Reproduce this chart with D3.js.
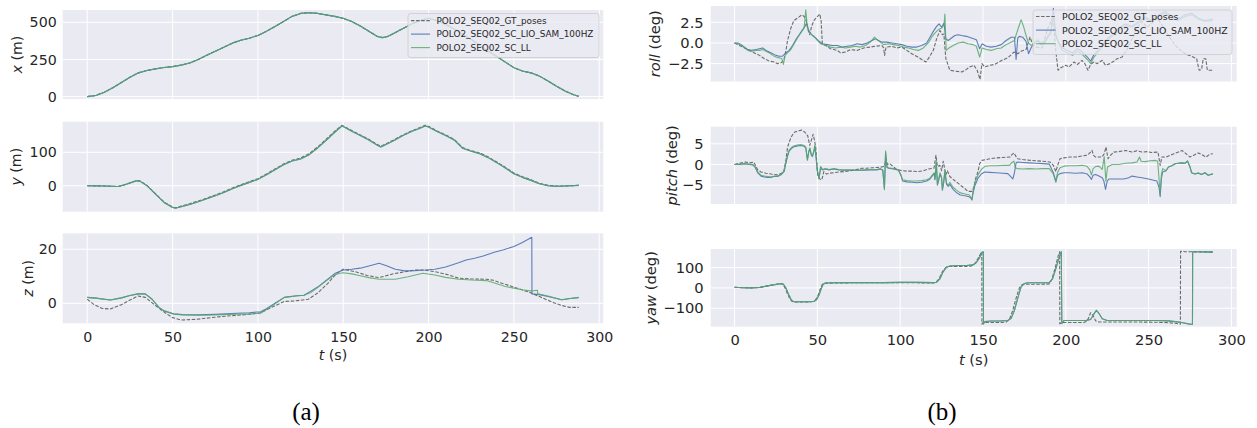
<!DOCTYPE html>
<html>
<head>
<meta charset="utf-8">
<script src="https://cdn.jsdelivr.net/npm/d3@7"></script>
<style>
body { margin: 0; background: #fff; }
svg { display: block; font-family: "DejaVu Sans", sans-serif; }
</style>
</head>
<body>
<svg id="chart" width="1257" height="428"></svg>
<script>
// ---- data: [t (s), value] ----
var seriesNames = ['POLO2_SEQ02_GT_poses', 'POLO2_SEQ02_SC_LIO_SAM_100HZ', 'POLO2_SEQ02_SC_LL'];
var tTicks = [0, 50, 100, 150, 200, 250, 300];

// position x: the three series sit on top of each other
var xPos = [[0,0],[5,8],[10,30],[15,60],[20,95],[25,130],[30,160],[35,176],[40,187],[45,196],[50,202],[55,212],[60,226],[65,250],[70,278],[75,305],[80,333],[85,360],[90,380],[95,393],[100,412],[105,440],[110,472],[115,505],[120,540],[125,560],[130,565],[135,560],[140,550],[145,540],[150,527],[155,505],[160,475],[165,440],[170,405],[173,397],[176,405],[180,428],[185,458],[190,488],[195,512],[200,527],[205,512],[210,485],[215,455],[220,420],[225,385],[230,345],[235,305],[240,270],[245,232],[250,195],[255,172],[260,160],[265,138],[270,105],[275,70],[280,38],[285,12],[288,2]];

var yGT = [[0,0],[5,-0.5],[10,-1],[15,-2],[18,-2.5],[22,3],[26,10],[29,16],[31,14],[35,1],[40,-24],[45,-49],[50,-64],[52,-66],[55,-61],[60,-54],[65,-46],[70,-37],[75,-28],[80,-18],[85,-7],[90,3],[95,12],[100,21],[105,35],[110,50],[115,65],[120,76],[125,83],[130,96],[135,116],[140,139],[145,163],[149,180],[150,179],[155,165],[160,152],[165,139],[170,123],[172,118],[175,125],[180,138],[185,152],[190,164],[195,174],[198,181],[200,178],[205,164],[210,152],[215,139],[220,114],[225,105],[230,98],[235,86],[240,71],[245,55],[250,38],[255,27],[260,18],[265,7],[270,1],[275,-1],[280,-1],[288,1]];
var yEst = [[0,0],[5,-0.5],[10,-1],[15,-2],[18,-2.5],[22,3],[26,10],[29,15],[31,13],[35,0],[40,-25],[45,-50],[50,-65],[52,-67],[55,-63],[60,-56],[65,-48],[70,-39],[75,-30],[80,-20],[85,-9],[90,1],[95,10],[100,19],[105,33],[110,48],[115,63],[120,74],[125,80],[130,93],[135,113],[140,136],[145,160],[149,178],[150,177],[155,163],[160,150],[165,137],[170,121],[172,116],[175,123],[180,136],[185,150],[190,162],[195,172],[198,179],[200,176],[205,162],[210,150],[215,137],[220,112],[225,103],[230,96],[235,84],[240,69],[245,53],[250,36],[255,25],[260,16],[265,6],[270,0],[275,-2],[280,-1],[288,1]];

var zGT = [[0,1.5],[4,-0.5],[8.8,-1.9],[13.5,-2.1],[20,-0.5],[25,1.2],[29.7,2.7],[34,2.2],[40,-0.8],[46,-3.7],[50,-5.3],[55,-6.2],[64.5,-5.9],[70,-5.5],[78.4,-4.9],[92.3,-4.2],[101.6,-3.5],[108,-1.5],[115.5,0.7],[122,0.9],[129.5,1.5],[135,3.8],[141,7.4],[146,11],[150,12.6],[157,11.7],[164,10.3],[171,9.5],[180,11],[192,12.3],[197,12.3],[203.7,11.7],[210,10.8],[217.6,9.3],[225,9.0],[233.9,8.9],[238,8.5],[243,7.4],[250,6.0],[259.4,4.0],[266,2.2],[273.3,0.2],[278,-0.8],[282.6,-1.5],[288,-1.5]];
var zLIO = [[0,2.2],[5,1.9],[13.5,1.2],[20,2.0],[25,2.9],[29.7,3.5],[34,3.5],[38,1.5],[42,-1.5],[45,-2.8],[50.6,-3.9],[56,-4.2],[64.5,-4.3],[75,-4.1],[87.7,-3.7],[95,-3.5],[101.6,-3.1],[105,-2.0],[110,0.0],[115.5,2.2],[122.5,2.8],[127,3.0],[131,4.5],[135,6.0],[140,8.5],[145,11.0],[150,12.3],[155,12.6],[160,13.0],[165,13.8],[171,14.8],[175,14.0],[180.5,12.6],[186,12.0],[192,12.1],[198,12.3],[203.7,12.6],[210,13.4],[217.6,15],[222,16.0],[227,16.7],[232,17.5],[238.5,18.9],[244,19.8],[250,21],[255,22.5],[260.5,24.4],[260.6,3.5],[265,3.2],[270,2.5],[278,1.3],[283,1.8],[288,2.1]];
var zLL = [[0,2.2],[5,1.9],[13.5,1.2],[20,2.0],[25,2.9],[29.7,3.5],[34,3.5],[38,1.5],[42,-1.5],[45,-2.8],[50.6,-4.0],[56,-4.3],[64.5,-4.4],[75,-4.3],[87.7,-4.0],[95,-4.0],[101.6,-3.7],[105,-2.3],[110,-0.2],[115.5,2.2],[122.5,2.7],[127,3.0],[131,4.0],[135,5.8],[140,8.3],[145,10.5],[148,11.1],[150,11.3],[155,10.9],[160,10.2],[165,9.5],[171,8.9],[180.5,8.9],[188,9.8],[196.7,11.1],[203.7,10.5],[210,9.6],[217.6,8.9],[225,8.6],[233.9,8.4],[240,7.2],[245,6.2],[250,5.6],[255,5.0],[259.4,4.6],[262,4.7],[263.8,4.8],[264,3.5],[270,2.7],[278,1.3],[283,1.8],[288,2.2]];

var rollGT = [[0,0],[3,-0.3],[6,-0.6],[9,-0.9],[12,-1.2],[15,-1.5],[18,-1.9],[21,-2.2],[24,-2.3],[26,-2.5],[28,-2.4],[29.7,-2.1],[31,-1.0],[32,0.3],[34,1.8],[35.8,2.7],[38,3.0],[40.6,3.4],[42,3.2],[43,2.9],[44.5,1.5],[45.4,1.0],[46.5,2.0],[47.9,2.7],[49.5,3.1],[51.5,3.5],[52.3,2.6],[53,-0.1],[55,-0.3],[58,-0.7],[62,-0.9],[64,-1.2],[67,-1.1],[70,-0.8],[74,-0.9],[78,-0.6],[81.7,-0.5],[85,-0.4],[89,-0.3],[90,-0.6],[90.6,-1.5],[91.5,-0.5],[95,-0.4],[98,-0.6],[101,-0.5],[104,-0.9],[107,-1.3],[110.7,-1.7],[113,-2.0],[115.5,-2.3],[117,-1.9],[120,-0.9],[122,0.5],[124,1.5],[125.5,1.0],[126.4,1.1],[127,-0.5],[127.6,-1.9],[130,-3.3],[133,-3.4],[137.3,-3.5],[140,-3.2],[142,-2.9],[144.5,-2.7],[146.5,-3.3],[148.2,-4.4],[149.4,-2.5],[151,-2.9],[154.2,-2.7],[157,-2.6],[161.5,-2.1],[165,-1.8],[168.7,-1.1],[171,-1.3],[173,-1.0],[176,-0.8],[178.4,0.7],[180,-0.2],[182,-0.5],[185.6,-0.6],[187,0.3],[189,1.7],[191.7,2.9],[192.9,1.5],[194,-1.0],[195.3,-3.3],[197,-3.0],[200,-2.7],[202,-2.9],[205,-2.3],[207,-2.6],[209.8,-2.1],[211.5,-2.5],[213.4,-3.3],[215,-2.6],[217,-2.3],[219,-2.5],[222,-2.1],[224,-2.7],[226.7,-2.5],[229,-2.2],[231,-1.9],[234,-1.7],[237,-0.8],[240,0.5],[243,1.8],[246,2.6],[249,1.9],[252,2.4],[255,3.0],[258,2.2],[261,1.2],[264,0.3],[267,-0.5],[270,-1.0],[273,-1.4],[276,-1.6],[279,-1.9],[280.5,-3.3],[282,-3.2],[283,-1.9],[284.5,-1.9],[285.5,-3.3],[289,-3.3]];
var rollLIO = [[0,0],[2,0],[4,-0.2],[6,-0.5],[8,-0.8],[10,-0.9],[13,-0.8],[15,-0.7],[17,-0.6],[19,-0.9],[21,-1.1],[23,-1.3],[25,-1.5],[27,-1.6],[29,-1.6],[31,-1.2],[33,-0.9],[35,-0.3],[37,0.4],[39,1.0],[41,1.6],[42.5,2.0],[43.5,2.4],[45,1.4],[47,0.9],[49,0.6],[51,0.2],[53,-0.1],[56,-0.2],[59,-0.3],[62,-0.3],[65,-0.5],[68,-0.4],[71,-0.3],[74,-0.1],[77,-0.2],[80,0.0],[83,0.3],[85,0.5],[87,0.3],[89,0.1],[92,0.1],[95,0.0],[98,-0.1],[101,-0.2],[104,-0.4],[107,-0.5],[110,-0.5],[113,-0.3],[116,0.0],[118,0.7],[120,1.4],[122,2.0],[123.5,2.3],[125,1.9],[126.5,2.4],[127.5,0.5],[129,0.3],[131,0.6],[133,0.9],[135,1.0],[137,0.9],[140,0.8],[143,0.6],[146,0.4],[148,-0.7],[149.5,-0.1],[152,-0.4],[155,-0.5],[158,-0.4],[161,-0.2],[164,0.3],[167,0.7],[169,0.7],[170,-2.0],[171,0.6],[172,0.8],[174,0.7],[176,0.2],[177.5,-1.3],[179,-0.6],[181,0.0],[183,0.3],[185,-0.2],[187,-0.1],[189,0.6],[191,1.2],[192.5,4.2],[194,0.8],[196,0.0],[198,-0.6],[201,-0.9],[204,-1.2],[207,-0.7],[210,-1.1],[213,-1.7],[215,-2.2],[217,-1.4],[220,-0.8],[224,0.3],[228,1.0],[232,1.8],[236,2.3],[240,2.0],[244,2.6],[248,3.1],[252,2.7],[256,3.4],[260,3.8],[264,3.2],[268,2.9],[272,3.4],[276,3.6],[280,3.0],[284,2.7],[288.8,2.9]];
var rollLL = [[0,0],[2,-0.1],[4,-0.3],[6,-0.6],[8,-0.9],[10,-1.0],[13,-0.9],[15,-0.9],[17,-0.8],[19,-1.0],[21,-1.2],[23,-1.5],[25,-1.7],[27,-1.8],[28.5,-1.9],[29.5,-2.6],[30.5,-1.5],[32,-1.2],[34,-0.8],[36,-0.1],[38,0.6],[40,1.2],[42,1.8],[43,4.0],[44,1.8],[46,1.1],[48,0.8],[50,0.3],[52,-0.1],[55,-0.3],[58,-0.5],[61,-0.6],[64,-0.5],[67,-0.6],[70,-0.5],[73,-0.4],[76,-0.5],[79,-0.3],[82,0.1],[84.5,0.7],[86,0.4],[88,0.1],[90,-0.2],[93,-0.1],[96,-0.2],[99,-0.3],[102,-0.5],[105,-0.6],[108,-0.8],[111,-0.9],[114,-0.6],[117,0.0],[119,0.7],[121,1.2],[123,1.6],[125,1.8],[126.5,2.2],[127,3.5],[127.8,-0.9],[129.5,-0.6],[132,-0.3],[135,0.0],[138,0.1],[141,-0.1],[144,-0.2],[146,-0.4],[148,-1.7],[149.5,-0.6],[152,-0.8],[155,-0.9],[158,-0.7],[161,-0.6],[164,-0.2],[167,0.1],[169,0.3],[170.5,1.3],[172,2.2],[173,2.8],[174.5,2.0],[176,0.9],[177.5,0.0],[179,-0.3],[181,-0.1],[183,0.4],[185,0.0],[187,0.2],[189,0.8],[191,1.4],[192.5,3.2],[194,1.0],[196,-0.2],[198,-0.9],[201,-1.2],[204,-1.5],[207,-1.0],[210,-1.4],[213,-2.0],[215,-2.5],[217,-1.7],[220,-1.0],[224,0.1],[228,0.8],[232,1.5],[236,2.1],[240,1.9],[244,2.4],[248,2.9],[252,2.6],[256,3.2],[260,3.6],[264,3.0],[268,2.7],[272,3.2],[276,3.4],[280,2.9],[284,2.6],[288.8,2.7]];

var pitchGT = [[0,0],[3,0.3],[6.8,0.6],[9,0.4],[11.6,0.6],[13,-0.5],[14,-1.3],[16,-1.8],[18.9,-2.1],[22,-2.3],[26,-2.5],[28,-2.2],[29.7,-1.7],[31,1.0],[32,4.2],[34,6.5],[35.8,7.7],[38,8.1],[40.6,8.3],[42.5,7.8],[44.2,6.9],[45.4,4.6],[46.5,6.0],[47.4,7.3],[48.2,6.0],[49,4.2],[50.3,-2.9],[51.5,-3.5],[52.7,-3.7],[53.9,-1.7],[55.5,-2.3],[57.5,-2.1],[60,-2.0],[63,-1.8],[67,-1.7],[70,-1.5],[73,-1.3],[76.9,-0.9],[80,-0.9],[83,-0.8],[86.5,-0.7],[89,-0.6],[90.5,-0.4],[91.4,1.4],[92.3,0.0],[93.8,0.2],[96,-0.6],[98,-1.2],[101,-1.5],[104,-1.6],[107,-1.6],[110.7,-1.7],[114,-1.5],[117,-1.1],[120.4,-0.9],[121.6,2.2],[122.5,-0.5],[124,-0.2],[125,-1.5],[126,0.8],[127.6,-2.5],[128.5,-1.5],[130,-2.9],[132,-3.6],[134.9,-4.5],[137,-5.2],[139,-5.8],[141,-6.5],[143.3,-6.5],[144.5,-5.5],[145.5,-3.5],[147,-1.7],[148,0.2],[149.4,1.0],[152,1.2],[154.2,1.4],[158,1.6],[162,1.7],[166.3,1.8],[167.5,2.4],[168.7,2.8],[170,1.9],[171,1.4],[174,1.2],[178.4,1.0],[182,0.9],[186,0.8],[190.5,0.6],[192.5,-0.2],[194,-1.7],[195,-0.3],[196.5,1.4],[199,1.6],[202.5,1.8],[206,1.8],[209,2.0],[212.2,2.2],[214,2.6],[215.8,3.4],[216.8,2.2],[218,1.8],[221.9,1.8],[223.2,2.6],[224.3,4.2],[225.5,1.4],[227,2.2],[229,3.0],[232,3.1],[236.4,3.4],[240,3.0],[243,3.3],[246,3.0],[249,3.1],[252,2.9],[255.7,3.0],[256.5,1.0],[257,-0.2],[258,1.8],[260.5,1.8],[263,2.2],[265.3,2.6],[268,3.0],[270.2,3.4],[272,2.8],[275,1.8],[277,2.2],[280,2.8],[282.5,2.3],[284.7,1.8],[287,2.5],[288.8,2.6]];
var pitchLIO = [[0,0],[3,0.0],[6,0.2],[9,0.0],[11,-0.1],[12.5,-0.7],[14,-2.0],[16,-2.8],[18,-3.0],[20,-3.1],[22,-3.1],[24,-2.9],[26,-2.9],[28,-2.5],[29,-2.1],[30,-1.6],[31,0.3],[32,2.0],[33,3.3],[35,4.1],[36,4.3],[38,4.5],[40,4.6],[42,4.4],[43,4.0],[44,1.2],[44.8,3.0],[45.5,3.8],[46.3,2.3],[47,1.9],[48,3.3],[48.5,4.4],[49.2,1.8],[50,-1.6],[51,-3.3],[52,-0.6],[53,-1.3],[55,-1.1],[57,-1.3],[60,-1.1],[63,-1.3],[66,-1.4],[70,-1.4],[74,-1.4],[78,-1.4],[82,-1.3],[86,-1.3],[88,-1.1],[89.5,-1.4],[90.5,-5.8],[91.2,2.8],[92,-0.7],[93,-0.9],[96,-1.1],[99,-1.4],[100.5,-2.7],[101.5,-4.0],[104,-4.2],[107,-4.3],[110,-4.4],[113,-4.3],[116,-4.0],[118,-3.5],[119.5,-2.7],[120.5,-2.2],[121,-3.7],[121.8,0.5],[122.5,-5.0],[123.3,-3.7],[124,-2.3],[125,-3.3],[125.5,-6.2],[126.3,-4.3],[127,-1.8],[128,-4.8],[129,-5.3],[130,-4.8],[132,-6.0],[134,-6.8],[136,-7.3],[138,-7.5],[140,-7.6],[141.5,-7.8],[142.5,-8.0],[143.3,-8.5],[144,-7.0],[145,-5.2],[146,-4.3],[147,-3.3],[149,-2.3],[151,-1.8],[154,-1.9],[158,-2.0],[162,-2.1],[165,-2.2],[166.5,-2.8],[168,-3.5],[169,-2.0],[170,0.4],[171,0.6],[174,0.5],[178,0.4],[182,0.3],[186,0.2],[190,0.1],[192.5,-2.0],[194,-4.0],[195,-2.6],[196.5,-2.2],[199,-2.0],[202,-2.0],[206,-2.1],[210,-2.0],[213,-2.3],[214.5,-3.0],[215.5,-3.6],[216.5,-2.6],[218,-2.4],[220,-2.8],[222,-3.2],[223,-4.0],[224,-6.0],[225,-4.0],[226,-3.5],[230,-3.5],[235,-3.5],[238,-3.2],[240,-2.8],[243,-3.0],[246,-3.2],[250,-3.5],[253,-3.8],[255,-4.0],[256.3,-5.5],[257,-7.8],[257.7,-3.5],[258.5,-1.8],[260.5,-1.5],[262,-0.6],[264,-0.3],[266,0.2],[268,0.3],[270,0.4],[272,0.3],[273.5,0.8],[275,-0.6],[276,-2.0],[278,-2.3],[280,-2.1],[282,-2.4],[284,-2.0],[286,-2.6],[288.8,-2.3]];
var pitchLL = [[0,0],[3,0.1],[6,0.2],[9,0.1],[11,0.0],[12.5,-0.6],[14,-1.8],[16,-2.6],[18,-2.8],[20,-2.9],[22,-3.0],[24,-2.8],[26,-2.8],[28,-2.4],[29,-2.0],[30,-1.5],[31,0.5],[32,2.2],[33,3.5],[35,4.3],[36,4.5],[38,4.7],[40,4.8],[42,4.6],[43,4.2],[44,1.0],[44.8,3.2],[45.5,4.0],[46.3,2.5],[47,2.0],[48,3.5],[48.5,4.7],[49.2,2.0],[50,-1.5],[51,-3.5],[52,-0.5],[53,-1.2],[55,-1.0],[57,-1.2],[60,-1.0],[63,-1.2],[66,-1.3],[70,-1.3],[74,-1.4],[78,-1.3],[82,-1.2],[86,-1.2],[88,-1.0],[89.5,-1.3],[90.5,-6.1],[91.2,3.3],[92,-0.5],[93,-0.8],[96,-1.0],[99,-1.3],[100.5,-2.5],[101.5,-3.7],[104,-3.9],[107,-4.0],[110,-4.0],[113,-3.9],[116,-3.7],[118,-3.3],[119.5,-2.5],[120.5,-2.0],[121,-3.5],[121.8,1.0],[122.5,-4.8],[123.3,-3.5],[124,-2.0],[125,-3.0],[125.5,-6.0],[126.3,-4.0],[127,-1.5],[128,-4.5],[129,-5.0],[130,-4.3],[132,-5.5],[134,-6.2],[136,-6.8],[138,-7.0],[140,-7.2],[141.5,-7.3],[142.5,-7.8],[143.3,-8.6],[144,-6.5],[145,-4.5],[146,-3.5],[147,-2.5],[149,-1.2],[151,-0.5],[154,-0.3],[158,-0.3],[162,-0.2],[166,-0.2],[167.5,0.5],[168.7,0.8],[169.5,-0.8],[171,-1.0],[174,-1.1],[178,-1.0],[182,-1.1],[186,-1.0],[190,-1.0],[192.5,-2.3],[194,-4.3],[195,-2.0],[196.5,-0.8],[199,-0.4],[202,-0.3],[206,-0.3],[210,-0.2],[213,-0.5],[214.5,-1.3],[215.5,-2.5],[216.5,-1.0],[218,-0.5],[220,-0.4],[222,-1.2],[223.2,1.9],[224.2,-4.0],[225.2,-0.6],[228,0.0],[232,0.0],[236,0.3],[240,0.4],[243,0.6],[244.5,1.8],[245.5,0.8],[248,0.7],[251,0.9],[254,1.0],[255.5,0.8],[256.3,-3.5],[257,-7.2],[257.7,-2.5],[258.5,-1.0],[260.5,-1.5],[262,-0.6],[264,-0.3],[266,0.2],[268,0.3],[270,0.4],[272,0.3],[273.5,0.9],[275,-0.6],[276,-2.0],[278,-2.3],[280,-2.0],[282,-2.4],[284,-2.0],[286,-2.6],[288.8,-2.2]];

var yawGT = [[0,3],[5,1],[10,0],[15,2],[20,10],[25,18],[28,22],[29,20],[30.5,0],[32,-30],[33.5,-55],[34.5,-65],[35.5,-69],[40,-69],[45,-69],[47.5,-67],[49,-58],[50.5,-35],[52,0],[53,18],[54.5,23],[60,24],[70,25],[80,25],[90,25],[100,26],[110,25],[120,24],[121.5,27],[123.5,45],[125.5,80],[127.5,100],[129.5,105],[135,106],[140,106],[143,108],[145,118],[147,145],[148.8,172],[149.3,178],[149.4,-178],[150,-170],[155,-170],[160,-170],[164,-168],[166,-155],[168,-110],[170,-50],[172,0],[173.5,15],[175,18],[185,18],[190,19],[191.5,40],[193.5,95],[195.5,160],[196.3,178],[196.4,-176],[198,-170],[205,-170],[211,-170],[213,-162],[215,-122],[216.5,-135],[218,-162],[220,-168],[230,-168],[245,-168],[255,-169],[262,-171],[266,-174],[269.2,-178],[269.3,180],[272,178],[280,177],[288.8,177]];
// LIO-SAM and LL yaw coincide in the figure
var yawEst = [[0,3],[5,1],[10,0],[15,2],[20,10],[25,17],[28,21],[29.5,18],[31,0],[32.5,-30],[34,-55],[35,-65],[36,-68],[40,-68],[45,-68],[48,-66],[49.5,-58],[51,-35],[52.5,0],[53.5,18],[55,24],[60,25],[70,26],[80,26],[90,26],[100,27],[110,27],[120,26],[122,28],[124,45],[126,80],[128,102],[130,108],[135,110],[140,110],[144,113],[146,125],[148,150],[149.5,175],[150.2,178],[150.3,-178],[151,-165],[155,-163],[160,-163],[165,-160],[167,-150],[169,-110],[171,-50],[173,5],[175,22],[177,25],[185,25],[190,26],[192,45],[194,95],[196,150],[197.3,178],[197.6,-175],[199,-160],[205,-160],[212,-160],[215,-155],[217,-128],[218.5,-110],[220,-125],[222,-152],[225,-160],[240,-160],[255,-160],[262,-162],[266,-166],[270,-170],[274,-177],[276.5,-180],[276.6,178],[280,178],[288.8,176]];

(function() {
'use strict';

var svg = d3.select('#chart');
var textColor = '#262626';
var colors = ['#555555', '#4C72B0', '#55A868'];
var opac = [0.85, 0.9, 0.85];

var columns = [
    {left: 62.7, right: 603.3, tDomain: [-14.4, 302.4], fs: 14.2, tickGap: 6, xPad: 8.6, tLabelY: 355, legendFs: 8.9,
     legend: {x: 408, y: 13.5, w: 191, h: 44, rowY: 20.6, rowH: 13.5, lineX: 411, lineW: 19, textX: 436.5},
     tag: '(a)', tagX: 306},
    {left: 710.7, right: 1236.7, tDomain: [-14.4, 303.2], fs: 14.7, tickGap: 7, xPad: 8.0, tLabelY: 358.5, legendFs: 9.4,
     legend: {x: 1033, y: 10, w: 199, h: 44.5, rowY: 16.5, rowH: 13.6, lineX: 1036, lineW: 19.5, textX: 1062},
     tag: '(b)', tagX: 942}
];

var panels = [
    {col: 0, top: 10, bottom: 99, domain: [-16, 583], ticks: [0, 250, 500], fmt: 'd', name: 'x', unit: ' (m)', lx: 17,
     data: [xPos, xPos, xPos], legend: true},
    {col: 0, top: 121.7, bottom: 211.7, domain: [-77.8, 191.6], ticks: [0, 100], fmt: 'd', name: 'y', unit: ' (m)', lx: 16,
     data: [yGT, yEst, yEst]},
    {col: 0, top: 233.3, bottom: 323.3, domain: [-7.4, 25.9], ticks: [0, 20], fmt: 'd', name: 'z', unit: ' (m)', lx: 28,
     data: [zGT, zLIO, zLL], xAxis: true},
    {col: 1, top: 6, bottom: 81.5, domain: [-4.66, 4.47], ticks: [-2.5, 0, 2.5], fmt: '.1f', name: 'roll', unit: ' (deg)', lx: 654,
     data: [rollGT, rollLIO, rollLL], legend: true},
    {col: 1, top: 126.7, bottom: 204, domain: [-9.54, 9.13], ticks: [-5, 0, 5], fmt: 'd', name: 'pitch', unit: ' (deg)', lx: 671,
     data: [pitchGT, pitchLIO, pitchLL]},
    {col: 1, top: 249, bottom: 326.7, domain: [-190.8, 191.3], ticks: [-100, 0, 100], fmt: 'd', name: 'yaw', unit: ' (deg)', lx: 650,
     data: [yawGT, yawEst, yawEst], xAxis: true}
];

panels.forEach(function(p, i) {
    var c = columns[p.col];
    var x = d3.scaleLinear().domain(c.tDomain).range([c.left, c.right]);
    var y = d3.scaleLinear().domain(p.domain).range([p.bottom, p.top]);
    var w = c.right - c.left, h = p.bottom - p.top;
    var g = svg.append('g');

    g.append('rect')
        .attr('x', c.left).attr('y', p.top)
        .attr('width', w).attr('height', h)
        .attr('fill', '#EAEAF2');

    // grid
    g.selectAll('line.gx').data(tTicks).enter().append('line')
        .attr('x1', function(d) { return x(d); }).attr('x2', function(d) { return x(d); })
        .attr('y1', p.top).attr('y2', p.bottom)
        .attr('stroke', '#fff').attr('stroke-width', 1);
    g.selectAll('line.gy').data(p.ticks).enter().append('line')
        .attr('x1', c.left).attr('x2', c.right)
        .attr('y1', function(d) { return y(d); }).attr('y2', function(d) { return y(d); })
        .attr('stroke', '#fff').attr('stroke-width', 1);

    // y ticks
    var ya = g.append('g')
        .attr('transform', 'translate(' + c.left + ',0)')
        .call(d3.axisLeft(y).tickValues(p.ticks).tickSize(0).tickPadding(c.tickGap).tickFormat(d3.format(p.fmt)));
    ya.select('.domain').remove();
    ya.selectAll('text').attr('fill', textColor).attr('font-size', c.fs).attr('font-family', '"DejaVu Sans", sans-serif');

    // y label
    var lab = g.append('text')
        .attr('transform', 'translate(' + p.lx + ',' + ((p.top + p.bottom) / 2) + ') rotate(-90)')
        .attr('text-anchor', 'middle')
        .attr('dominant-baseline', 'central')
        .attr('fill', textColor)
        .attr('font-size', c.fs);
    lab.append('tspan').attr('font-style', 'italic').text(p.name);
    lab.append('tspan').text(p.unit);

    if (p.xAxis) {
        var xa = g.append('g')
            .attr('transform', 'translate(0,' + p.bottom + ')')
            .call(d3.axisBottom(x).tickValues(tTicks).tickSize(0).tickPadding(c.xPad).tickFormat(d3.format('d')));
        xa.select('.domain').remove();
        xa.selectAll('text').attr('fill', textColor).attr('font-size', c.fs).attr('font-family', '"DejaVu Sans", sans-serif');

        var tl = g.append('text')
            .attr('x', (c.left + c.right) / 2).attr('y', c.tLabelY)
            .attr('text-anchor', 'middle').attr('dominant-baseline', 'central')
            .attr('fill', textColor).attr('font-size', c.fs);
        tl.append('tspan').attr('font-style', 'italic').text('t');
        tl.append('tspan').text(' (s)');
    }

    // lines
    var clipId = 'clip' + i;
    svg.append('clipPath').attr('id', clipId).append('rect')
        .attr('x', c.left).attr('y', p.top).attr('width', w).attr('height', h);

    var line = d3.line()
        .x(function(d) { return x(d[0]); })
        .y(function(d) { return y(d[1]); });

    var lg = g.append('g').attr('clip-path', 'url(#' + clipId + ')');
    p.data.forEach(function(s, k) {
        lg.append('path')
            .datum(s)
            .attr('d', line)
            .attr('fill', 'none')
            .attr('stroke', colors[k])
            .attr('stroke-opacity', opac[k])
            .attr('stroke-width', 1.1)
            .attr('stroke-linejoin', 'round')
            .attr('stroke-dasharray', k === 0 ? '3.5,1.6' : null);
    });

    if (p.legend) {
        var L = c.legend;
        var leg = g.append('g');
        leg.append('rect')
            .attr('x', L.x).attr('y', L.y).attr('width', L.w).attr('height', L.h)
            .attr('rx', 2.5)
            .attr('fill', '#EAEAF2').attr('fill-opacity', 0.8)
            .attr('stroke', '#CCCCCC').attr('stroke-width', 0.8);
        var rows = leg.selectAll('g.row').data(seriesNames).enter().append('g')
            .attr('transform', function(d, k) { return 'translate(0,' + (L.rowY + k * L.rowH) + ')'; });
        rows.append('line')
            .attr('x1', L.lineX).attr('x2', L.lineX + L.lineW)
            .attr('stroke', function(d, k) { return colors[k]; })
            .attr('stroke-opacity', function(d, k) { return opac[k]; })
            .attr('stroke-width', 1.1)
            .attr('stroke-dasharray', function(d, k) { return k === 0 ? '3.5,1.6' : null; });
        rows.append('text')
            .attr('x', L.textX)
            .attr('dominant-baseline', 'central')
            .attr('fill', textColor)
            .attr('font-size', c.legendFs)
            .text(function(d) { return d; });
    }
});

columns.forEach(function(c) {
    svg.append('text')
        .attr('x', c.tagX).attr('y', 420)
        .attr('text-anchor', 'middle')
        .attr('font-family', '"Liberation Serif", "DejaVu Serif", serif')
        .attr('font-size', 25)
        .attr('fill', '#000')
        .text(c.tag);
});

})();
</script>
</body>
</html>
